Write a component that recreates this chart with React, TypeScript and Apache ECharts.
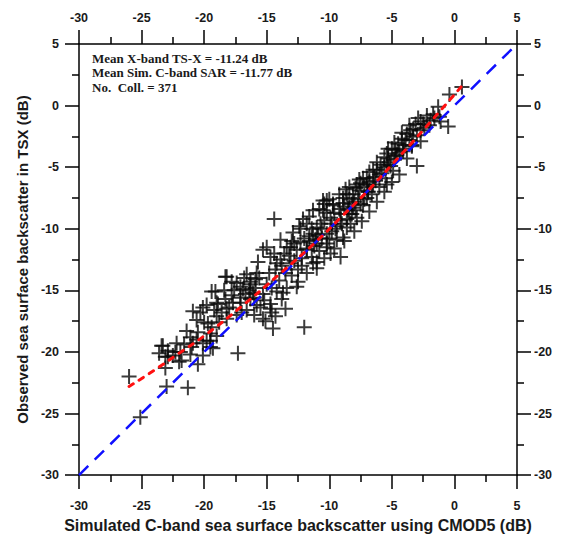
import React, { useEffect, useRef } from "react";
import * as echarts from "echarts";

// Axis tick values (both axes, dB)
const axisMin = -30;
const axisMax = 5;
const axisStep = 5;

// Scatter points [simulated C-band (dB), observed TSX (dB)]
const lowCluster: [number, number][] = [
  [-26.0, -22.0], [-25.1, -25.3], [-23.0, -22.8], [-21.3, -22.9], [-23.1, -21.3],
  [-20.5, -21.0], [-21.8, -20.7], [-23.4, -19.5], [-22.9, -19.9], [-22.2, -19.3],
  [-23.1, -20.4], [-22.5, -20.3], [-21.9, -20.0], [-21.1, -18.8], [-20.1, -19.3],
  [-19.3, -19.7], [-19.8, -19.1], [-23.6, -20.1], [-21.0, -19.6], [-19.5, -19.1],
  [-20.9, -19.3], [-23.3, -19.5], [-22.3, -20.0], [-22.9, -20.4], [-21.1, -20.2],
  [-19.5, -19.6], [-20.1, -20.3], [-17.3, -20.1], [-21.4, -18.3], [-20.5, -18.4],
  [-19.5, -18.5], [-19.0, -18.7], [-20.6, -19.0], [-21.6, -19.4], [-22.0, -20.8],
];

const lowerMidCluster: [number, number][] = [
  [-18.2, -13.9], [-16.6, -13.7], [-19.4, -15.1], [-17.8, -14.3], [-17.1, -14.7],
  [-16.3, -14.5], [-15.9, -14.1], [-20.9, -16.7], [-20.3, -16.8], [-20.1, -16.4],
  [-18.9, -16.1], [-18.3, -15.7], [-17.7, -16.0], [-17.1, -15.6], [-16.7, -15.3],
  [-19.0, -17.1], [-18.2, -17.3], [-19.7, -17.7], [-15.8, -13.6], [-16.1, -15.2],
  [-15.1, -17.5], [-14.5, -18.1], [-14.7, -16.5], [-13.5, -16.5], [-16.0, -17.0],
  [-12.0, -18.0], [-14.3, -17.1], [-15.3, -17.3], [-16.0, -15.6], [-15.2, -15.8],
  [-16.6, -16.6], [-17.4, -17.0], [-17.8, -15.4], [-18.6, -16.8], [-18.8, -17.6],
  [-19.4, -18.0], [-20.0, -17.6], [-16.8, -14.0], [-17.6, -15.0], [-18.4, -15.0],
  [-19.8, -16.2], [-20.6, -17.4], [-17.0, -16.8], [-15.8, -16.2], [-16.4, -15.0],
  [-18.0, -16.4], [-19.2, -16.6],
];

const midCluster: [number, number][] = [
  [-14.4, -9.2], [-13.9, -10.9], [-11.8, -9.6], [-12.9, -10.3], [-12.3, -10.0],
  [-11.3, -10.4], [-13.4, -11.5], [-12.6, -11.7], [-11.8, -11.6], [-11.4, -12.3],
  [-15.3, -11.7], [-14.7, -12.3], [-13.9, -12.5], [-13.1, -12.8], [-15.7, -12.7],
  [-14.3, -13.3], [-13.5, -13.6], [-12.5, -13.3], [-12.5, -14.3], [-11.3, -12.8],
  [-18.3, -13.9], [-17.4, -14.4], [-16.3, -14.3], [-16.9, -14.9], [-15.9, -14.8],
  [-15.0, -14.5], [-15.3, -15.3], [-14.2, -15.1], [-13.4, -14.8], [-16.3, -15.7],
  [-17.1, -16.0], [-19.1, -15.1], [-19.0, -16.0], [-18.2, -16.5], [-15.5, -16.4],
  [-14.7, -16.1], [-13.8, -15.7], [-14.6, -16.8], [-13.7, -15.2], [-12.6, -14.7],
  [-11.8, -13.6], [-11.0, -12.7], [-10.2, -11.2], [-11.0, -11.2], [-9.1, -12.3],
  [-9.9, -12.0], [-15.0, -11.5], [-14.8, -13.6], [-14.2, -12.8], [-13.6, -12.0],
  [-14.0, -14.2], [-13.0, -13.8], [-15.6, -14.0], [-13.2, -12.2], [-12.8, -11.2],
  [-12.2, -12.4], [-11.0, -13.2], [-10.4, -12.4], [-9.6, -11.6], [-14.6, -14.8],
  [-13.8, -13.0], [-12.8, -12.6], [-12.2, -13.0], [-14.4, -12.0], [-13.0, -11.0],
];

const upperMidCluster: [number, number][] = [
  [-12.1, -9.2], [-11.3, -8.5], [-10.5, -7.7], [-10.2, -8.7], [-9.7, -8.0],
  [-8.9, -7.5], [-8.7, -6.8], [-7.8, -6.4], [-8.1, -7.2], [-7.3, -5.9],
  [-6.9, -7.0], [-7.5, -8.0], [-8.5, -8.5], [-9.1, -9.3], [-10.7, -9.6],
  [-11.4, -10.0], [-10.2, -10.4], [-9.5, -10.0], [-11.1, -10.9], [-12.3, -11.1],
  [-13.1, -11.5], [-11.8, -11.7], [-10.2, -11.5], [-8.9, -10.7], [-8.3, -9.6],
  [-9.9, -9.1], [-10.9, -10.5], [-9.4, -10.9], [-8.6, -9.9], [-7.8, -9.1],
  [-8.2, -8.0], [-7.0, -7.5], [-6.5, -6.4], [-12.0, -10.8], [-11.6, -10.6],
  [-11.0, -9.9], [-10.6, -10.0], [-10.4, -9.3], [-9.8, -9.6], [-9.6, -8.7],
  [-9.2, -8.4], [-8.8, -8.2], [-8.4, -7.6], [-8.0, -7.8], [-11.6, -11.0],
  [-10.8, -11.8], [-10.0, -10.8], [-9.4, -9.8], [-8.6, -9.2], [-7.9, -8.5],
  [-12.4, -9.8], [-11.6, -9.0], [-10.8, -8.4], [-10.0, -7.6], [-9.2, -7.2],
  [-8.8, -11.0], [-8.0, -10.2], [-7.4, -9.4], [-6.8, -8.6], [-10.6, -10.8],
  [-9.8, -10.2], [-9.0, -9.6], [-8.4, -8.8], [-11.2, -11.4], [-10.4, -8.0],
];

const highCluster: [number, number][] = [
  [-3.0, -4.9], [-2.7, -1.3], [-3.3, -1.9], [-3.8, -2.3], [-4.2, -2.7],
  [-2.7, -2.9], [-3.4, -3.3], [-4.7, -3.6], [-5.3, -3.5], [-4.1, -3.7],
  [-4.7, -4.1], [-5.3, -4.3], [-5.9, -4.8], [-6.5, -5.2], [-5.8, -5.5],
  [-5.1, -4.9], [-7.0, -5.9], [-6.3, -6.1], [-7.5, -6.3], [-7.9, -6.7],
  [-6.9, -7.0], [-5.4, -6.4], [-8.6, -7.2], [-7.7, -7.5], [-8.9, -7.9],
  [-9.7, -8.1], [-8.1, -8.3], [-7.3, -8.1], [-10.2, -7.7], [-10.5, -8.5],
  [-9.1, -8.8], [-8.2, -8.8], [-7.6, -6.9], [-7.2, -6.6], [-6.8, -6.2],
  [-6.4, -5.8], [-6.0, -5.6], [-5.6, -5.0], [-5.2, -4.6], [-4.8, -4.4],
  [-4.4, -3.8], [-7.2, -7.6], [-6.6, -7.2], [-6.0, -6.6], [-5.5, -5.9],
  [-4.9, -5.3], [-8.4, -6.6], [-7.6, -6.0], [-6.8, -5.4], [-6.2, -4.6],
  [-5.6, -4.2], [-6.2, -7.8], [-5.6, -7.0], [-5.0, -6.2], [-4.4, -5.6],
  [-7.0, -6.4], [-6.2, -5.2], [-5.4, -4.8],
];

const topCluster: [number, number][] = [
  [0.6, 1.5], [-0.4, 0.9], [-0.5, -1.7], [-1.3, -0.1], [-1.7, -0.7],
  [-1.2, -0.9], [-1.9, -1.2], [-2.5, -1.5], [-1.1, -1.3], [-3.1, -1.5],
  [-3.5, -2.0], [-2.7, -2.0], [-3.3, -2.5], [-3.9, -2.8], [-4.5, -3.1],
  [-5.0, -3.5], [-4.1, -3.5], [-3.4, -3.2], [-5.4, -3.9], [-4.6, -4.0],
  [-3.8, -4.3], [-4.0, -3.2], [-3.6, -2.8], [-3.0, -2.4], [-2.4, -1.8],
  [-2.0, -1.6], [-1.6, -1.0], [-4.8, -3.0], [-4.2, -2.2], [-3.6, -1.6],
  [-2.9, -1.0], [-2.2, -0.8],
];

// Red fitted curve, read along its dashes
const fitCurve: [number, number][] = [
  [-26, -22.8], [-24, -21.5], [-22, -20.1], [-20, -18.7], [-17, -16.3],
  [-14, -13.7], [-11, -11.0], [-9, -9.0], [-7, -7.0], [-5, -4.8],
  [-2.5, -2.0], [0.6, 1.6],
];

// Blue 1:1 line
const oneToOne: [number, number][] = [
  [-30, -30], [5, 5],
];

const statsLines = [
  "Mean X-band TS-X = -11.24 dB",
  "Mean Sim. C-band SAR = -11.77 dB",
  "No.  Coll. = 371",
];

const xTitle = "Simulated C-band sea surface backscatter using CMOD5 (dB)";
const yTitle = "Observed sea surface backscatter in TSX (dB)";

export default function App() {
  const ref = useRef<HTMLDivElement>(null);

  useEffect(() => {
    document.body.style.margin = "0";
    if (!ref.current) return;
    const chart = echarts.init(ref.current, null, { renderer: "svg" });

    const lineStyle = { color: "#000", width: 1.5 };
    const labelStyle = {
      fontFamily: "Liberation Sans, Arial, sans-serif",
      fontWeight: "bold" as const,
      fontSize: 12.5,
      color: "#1a1a1a",
    };
    const baseAxis = (extra: any) => ({
      type: "value",
      min: axisMin,
      max: axisMax,
      interval: axisStep,
      axisLine: { show: true, onZero: false, lineStyle },
      axisTick: { show: true, inside: false, length: 14, lineStyle },
      minorTick: { show: true, splitNumber: 2, length: 7, lineStyle },
      splitLine: { show: false },
      minorSplitLine: { show: false },
      ...extra,
    });

    const points = [
      ...lowCluster,
      ...lowerMidCluster,
      ...midCluster,
      ...upperMidCluster,
      ...highCluster,
      ...topCluster,
    ];

    chart.setOption({
      animation: false,
      backgroundColor: "#fff",
      grid: { left: 79, right: 51, top: 44, bottom: 57, containLabel: false },
      xAxis: [
        baseAxis({
          position: "bottom",
          axisLabel: { ...labelStyle, margin: 24 },
          name: xTitle,
          nameLocation: "middle",
          nameGap: 37,
          nameTextStyle: {
            fontFamily: "Liberation Sans, Arial, sans-serif",
            fontWeight: "bold",
            fontSize: 16,
            color: "#1a1a1a",
          },
        }),
        baseAxis({
          position: "top",
          axisLabel: { ...labelStyle, margin: 20 },
        }),
      ],
      yAxis: [
        baseAxis({
          position: "left",
          axisLabel: { ...labelStyle, margin: 20 },
          name: yTitle,
          nameLocation: "middle",
          nameGap: 49,
          nameTextStyle: {
            fontFamily: "Liberation Sans, Arial, sans-serif",
            fontWeight: "bold",
            fontSize: 15,
            color: "#1a1a1a",
          },
        }),
        baseAxis({
          position: "right",
          axisLabel: { ...labelStyle, margin: 17 },
        }),
      ],
      graphic: [
        {
          type: "text",
          left: 92,
          top: 51,
          style: {
            text: statsLines.join("\n"),
            font: 'bold 13px "Liberation Serif", "Times New Roman", serif',
            lineHeight: 14.5,
            fill: "#1a1a1a",
          },
        },
      ],
      series: [
        {
          type: "scatter",
          xAxisIndex: 0,
          yAxisIndex: 0,
          data: points,
          symbol: "path://M5 0 L5 10 M0 5 L10 5",
          symbolSize: 15,
          itemStyle: {
            color: "transparent",
            borderColor: "#0a0a0a",
            borderWidth: 2,
          },
          z: 2,
        },
        {
          type: "line",
          xAxisIndex: 0,
          yAxisIndex: 0,
          data: oneToOne,
          showSymbol: false,
          symbol: "none",
          lineStyle: { color: "#1010ff", width: 2.5, type: [13, 9], cap: "butt" },
          z: 3,
        },
        {
          type: "line",
          xAxisIndex: 0,
          yAxisIndex: 0,
          data: fitCurve,
          smooth: true,
          showSymbol: false,
          symbol: "none",
          lineStyle: { color: "#ff1010", width: 3, type: [5, 7], cap: "round" },
          z: 4,
        },
      ],
    });

    return () => chart.dispose();
  }, []);

  return <div ref={ref} style={{ width: 568, height: 538 }} />;
}
